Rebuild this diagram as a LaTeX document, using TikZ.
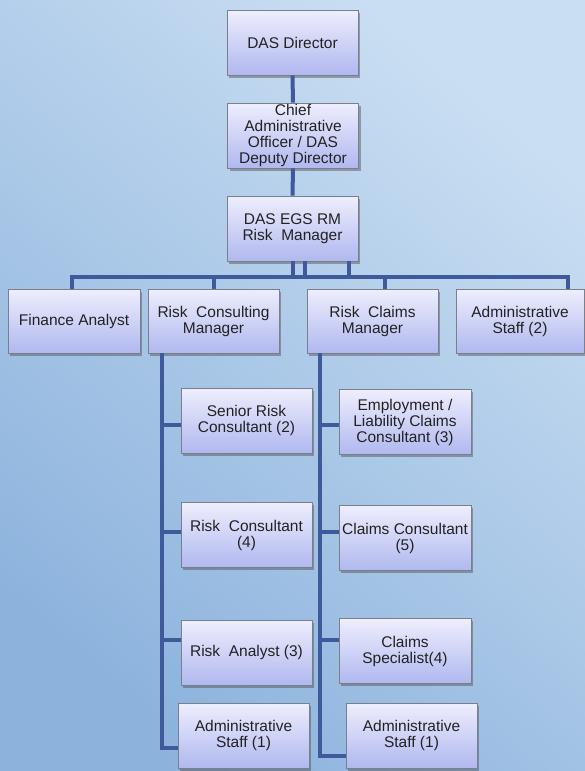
\documentclass[tikz,border=0pt]{standalone}
\usepackage{fontspec}
\setmainfont{Liberation Sans}
\usetikzlibrary{shadows,calc}
\definecolor{bgdark}{HTML}{8DB3DD}
\definecolor{bglight}{HTML}{C9DEF2}
\definecolor{boxtop}{HTML}{EEEEFD}
\definecolor{boxbot}{HTML}{B0B8EF}
\definecolor{boxline}{HTML}{7A7F8C}
\definecolor{linkc}{HTML}{3E5A9B}
\definecolor{txt}{HTML}{222222}
\begin{document}
\begin{tikzpicture}[x=1pt,y=-1pt,
  box/.style={draw=boxline, line width=0.8pt, top color=boxtop, bottom color=boxbot,
    minimum width=131pt, minimum height=65pt, align=center, inner sep=0pt,
    text=txt, font=\fontsize{15.5}{16}\selectfont,
    drop shadow={shadow xshift=2pt, shadow yshift=-2.5pt, opacity=0.45, fill=black!70}},
  link/.style={draw=linkc, line width=4pt}]
\useasboundingbox (0,0) rectangle (585,771);
\shade[shading=axis, top color=bglight, bottom color=bgdark, shading angle=-40] (0,0) rectangle (585,771);

% top chain
\node[box] (dir) at (292.5,42.5) {DAS Director};
\node[box] (cao) at (293,135.5) {Chief\\Administrative\\Officer / DAS\\Deputy Director};
\node[box] (rm) at (292.5,228.5) {DAS EGS RM\\Risk\ \ Manager};

% level 2
\node[box, minimum width=132pt, minimum height=64pt] (fin) at (74,321) {Finance Analyst};
\node[box, minimum height=64pt] (rcm) at (213.5,321) {Risk\ \ Consulting\\Manager};
\node[box, minimum height=64pt] (rclm) at (372.5,321) {Risk\ \ Claims\\Manager};
\node[box, minimum width=128pt, minimum height=64pt] (adm2) at (520,321) {Administrative\\Staff (2)};

% left column
\node[box] (src) at (246.5,420.5) {Senior Risk\\Consultant (2)};
\node[box] (rc) at (246.5,535) {Risk\ \ Consultant\\(4)};
\node[box] (ra) at (246.5,652.5) {Risk\ \ Analyst (3)};
\node[box] (admL) at (243.5,735.5) {Administrative\\Staff (1)};

% right column
\node[box, minimum width=132pt] (emp) at (405,422) {Employment /\\Liability Claims\\Consultant (3)};
\node[box, minimum width=132pt] (cc) at (405,538) {Claims Consultant\\(5)};
\node[box, minimum width=132pt] (cs) at (405,651) {Claims\\Specialist(4)};
\node[box] (admR) at (411.5,735.5) {Administrative\\Staff (1)};

% connectors: top chain
\draw[link] (dir.south) -- (cao.north);
\draw[link] (cao.south) -- (rm.north);

% bus
\coordinate (busL) at (72,277);
\coordinate (busR) at (568,277);
\draw[link] (busL |- fin.north) -- (busL) -- (busR) -- (busR |- adm2.north);
\coordinate (d1) at (293,277);
\coordinate (d2) at (305,277);
\coordinate (d3) at (349,277);
\draw[link] (d1 |- rm.south) -- (d1);
\draw[link] (d2 |- rm.south) -- (d2);
\draw[link] (d3 |- rm.south) -- (d3);
\draw[link] (rcm.north) -- (rcm.north |- busL);
\coordinate (d4) at (385,277);
\draw[link] (d4) -- (d4 |- rclm.north);

% left spine
\coordinate (sL) at (162,353);
\coordinate (b1) at ([yshift=-4.5pt]src.west);
\coordinate (b2) at ([yshift=3pt]rc.west);
\coordinate (b3) at ([yshift=12.5pt]ra.west);
\coordinate (b4) at ([yshift=-12.5pt]admL.west);
\draw[link] (sL) |- (b4);
\draw[link] (b1 -| sL) -- (b1);
\draw[link] (b2 -| sL) -- (b2);
\draw[link] (b3 -| sL) -- (b3);

% right spine
\coordinate (sR) at (320,353);
\coordinate (c1) at ([yshift=-3pt]emp.west);
\coordinate (c2) at ([yshift=6pt]cc.west);
\coordinate (c3) at ([yshift=11pt]cs.west);
\coordinate (c4) at ([yshift=-20.5pt]admR.west);
\draw[link] (sR) |- (c4);
\draw[link] (c1 -| sR) -- (c1);
\draw[link] (c2 -| sR) -- (c2);
\draw[link] (c3 -| sR) -- (c3);
\end{tikzpicture}
\end{document}
